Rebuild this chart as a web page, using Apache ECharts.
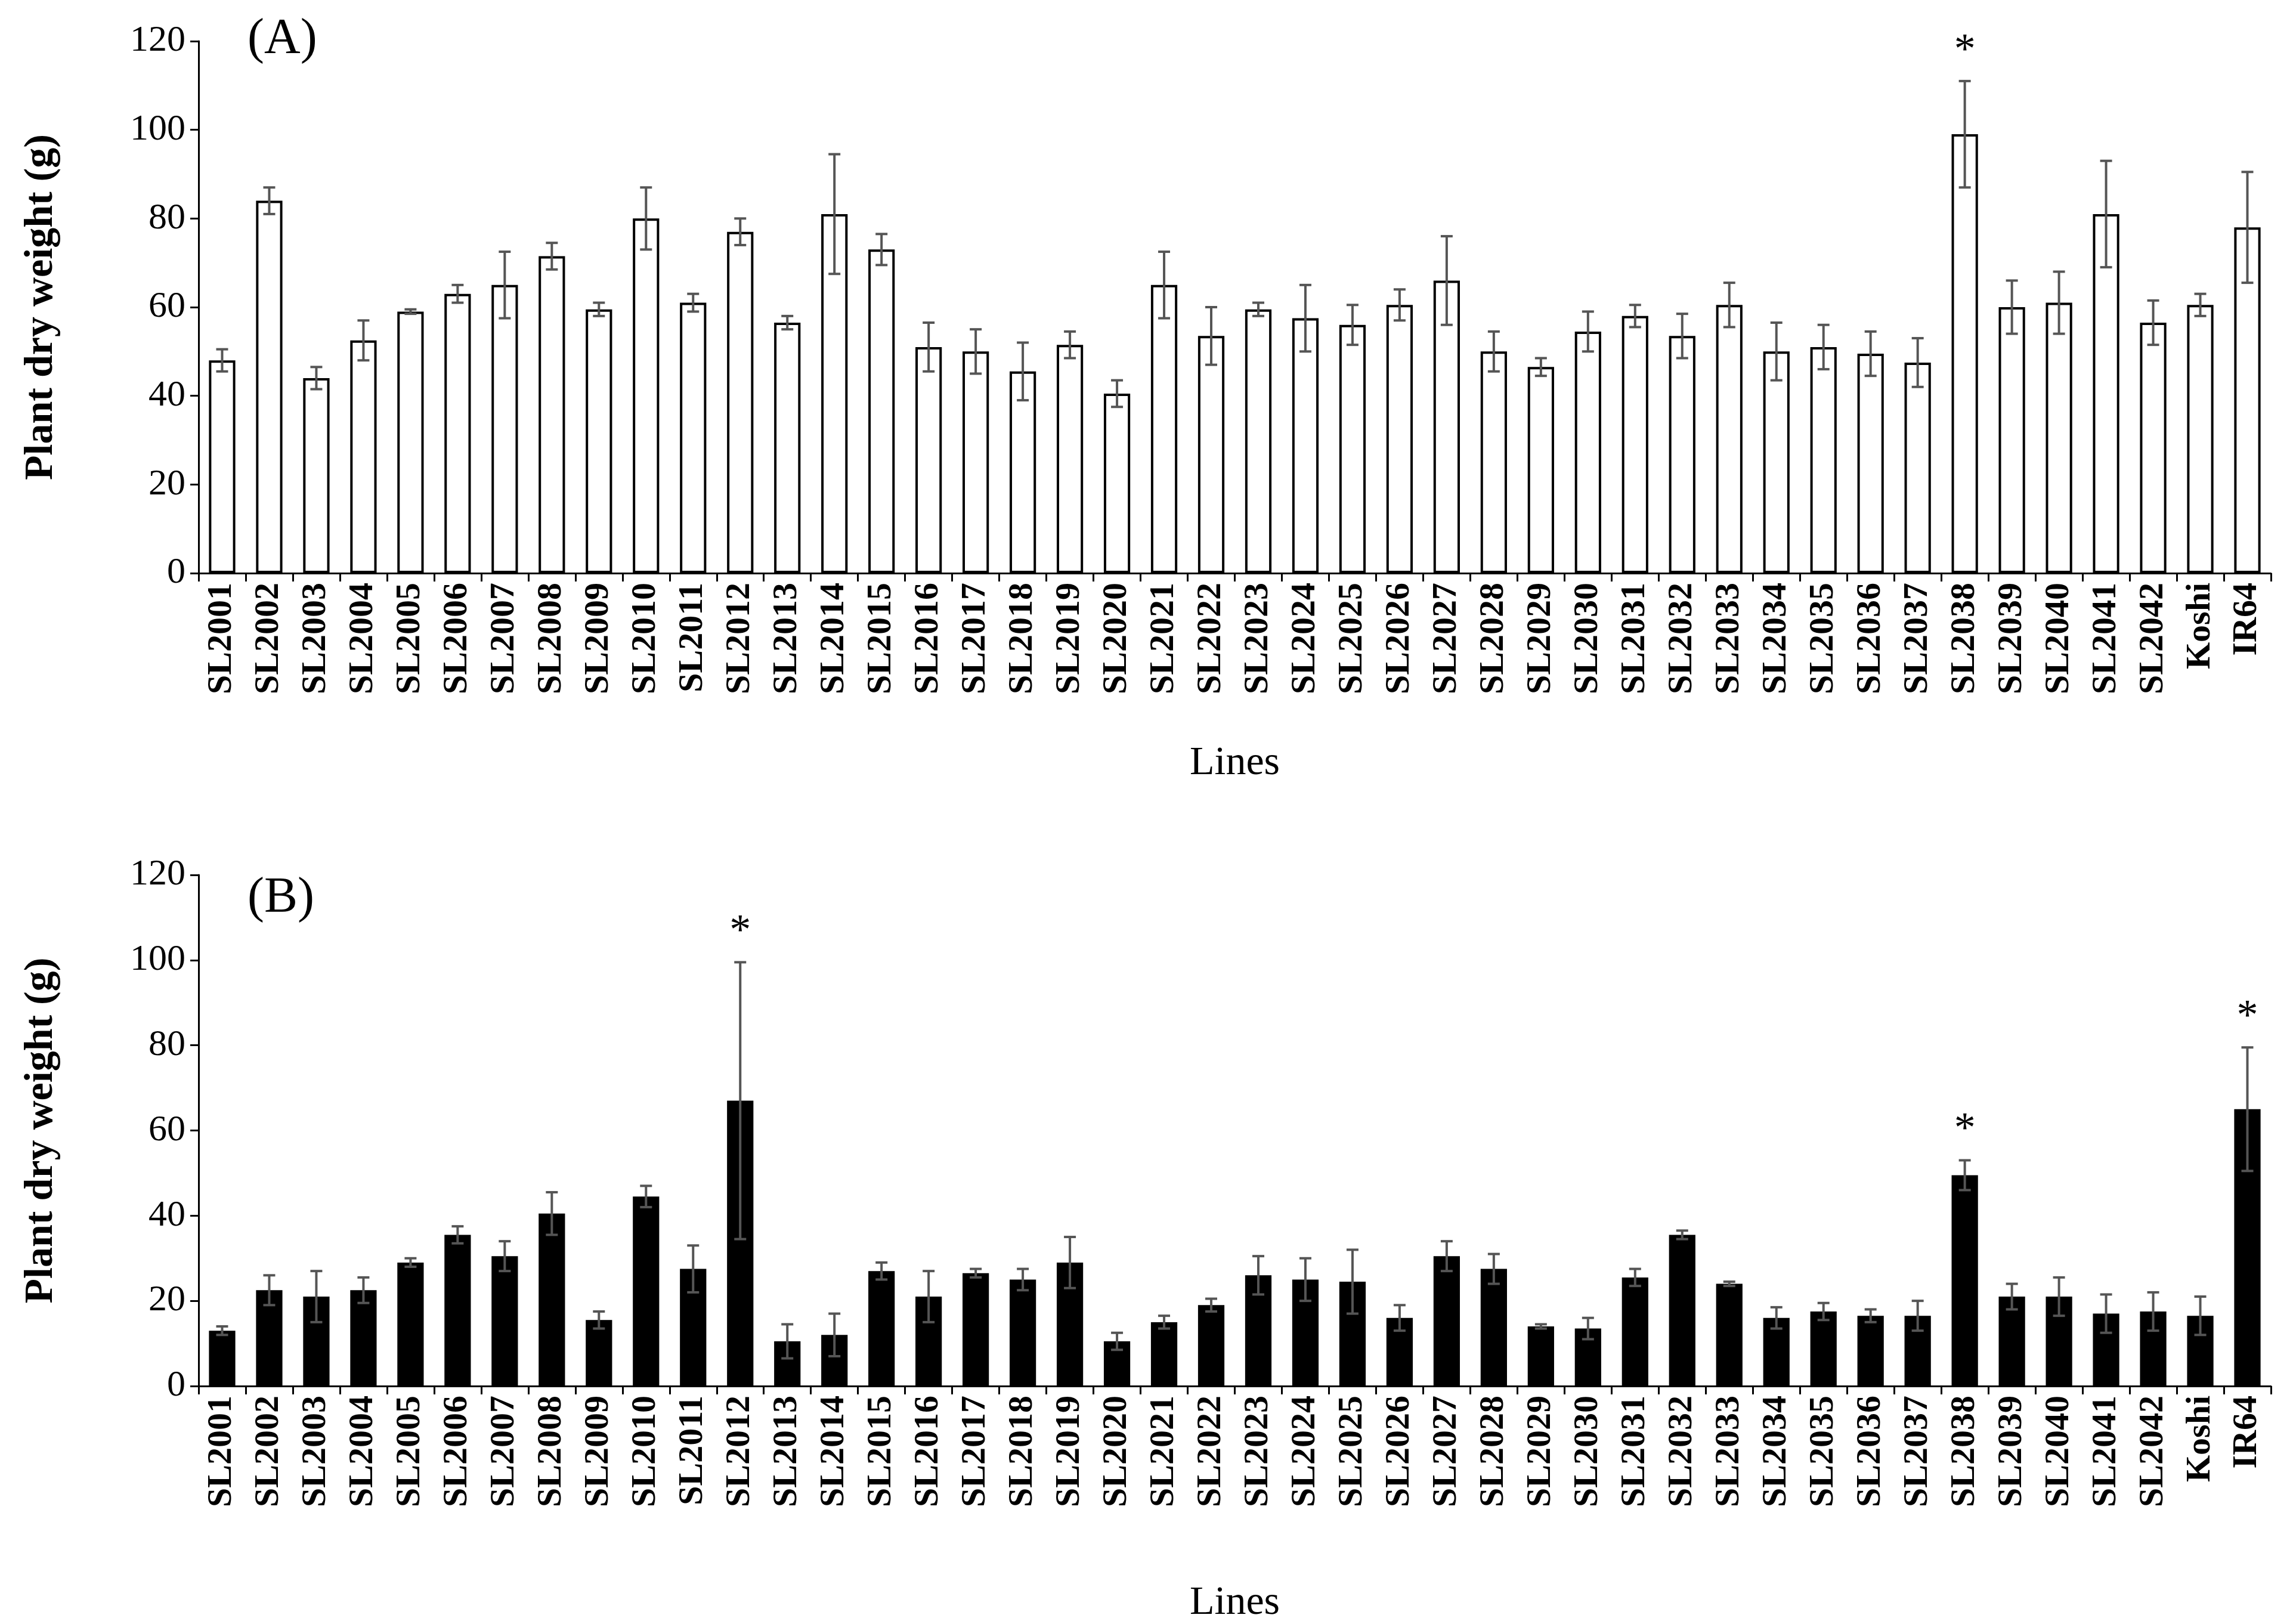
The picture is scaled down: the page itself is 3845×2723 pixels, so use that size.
<!DOCTYPE html>
<html>
<head>
<meta charset="utf-8" />
<script src="https://cdn.jsdelivr.net/npm/echarts@6/dist/echarts.min.js"></script>
<style>
  body { margin: 0; background: #fff; }
  #chart { width: 3845px; height: 2723px; }
</style>
</head>
<body>
<div id="chart"></div>
<script>
var lines = ['SL2001','SL2002','SL2003','SL2004','SL2005','SL2006','SL2007','SL2008','SL2009','SL2010',
  'SL2011','SL2012','SL2013','SL2014','SL2015','SL2016','SL2017','SL2018','SL2019','SL2020',
  'SL2021','SL2022','SL2023','SL2024','SL2025','SL2026','SL2027','SL2028','SL2029','SL2030',
  'SL2031','SL2032','SL2033','SL2034','SL2035','SL2036','SL2037','SL2038','SL2039','SL2040',
  'SL2041','SL2042','Koshi','IR64'];

// panel A
var meanA = [48,84,44,52.5,59,63,65,71.5,59.5,80, 61,77,56.5,81,73,51,50,45.5,51.5,40.5,
  65,53.5,59.5,57.5,56,60.5,66,50,46.5,54.5, 58,53.5,60.5,50,51,49.5,47.5,99,60,61, 81,56.5,60.5,78];
var errA = [2.5,3,2.5,4.5,0.5,2,7.5,3,1.5,7, 2,3,1.5,13.5,3.5,5.5,5,6.5,3,3,
  7.5,6.5,1.5,7.5,4.5,3.5,10,4.5,2,4.5, 2.5,5,5,6.5,5,5,5.5,12,6,7, 12,5,2.5,12.5];
var starA = ['SL2038'];

// panel B
var meanB = [13,22.5,21,22.5,29,35.5,30.5,40.5,15.5,44.5, 27.5,67,10.5,12,27,21,26.5,25,29,10.5,
  15,19,26,25,24.5,16,30.5,27.5,14,13.5, 25.5,35.5,24,16,17.5,16.5,16.5,49.5,21,21, 17,17.5,16.5,65];
var errB = [1,3.5,6,3,1,2,3.5,5,2,2.5, 5.5,32.5,4,5,2,6,1,2.5,6,2,
  1.5,1.5,4.5,5,7.5,3,3.5,3.5,0.5,2.5, 2,1,0.5,2.5,2,1.5,3.5,3.5,3,4.5, 4.5,4.5,4.5,14.5];
var starB = ['SL2012','SL2038','IR64'];

var yTicks = [0,20,40,60,80,100,120];

var font = 'Liberation Serif, Times New Roman, serif';

function errItems(mean, err, stars) {
  return mean.map(function (m, i) {
    return [i, m, err[i], stars.indexOf(lines[i]) >= 0 ? 1 : 0];
  });
}

function renderErr(params, api) {
  var i = api.value(0), m = api.value(1), e = api.value(2), s = api.value(3);
  var top = api.coord([i, m + e]);
  var bot = api.coord([i, m - e]);
  var w = 10;
  var st = { stroke: '#555', lineWidth: 4 };
  var kids = [
    { type: 'line', shape: { x1: top[0], y1: top[1], x2: bot[0], y2: bot[1] }, style: st },
    { type: 'line', shape: { x1: top[0] - w, y1: top[1], x2: top[0] + w, y2: top[1] }, style: st },
    { type: 'line', shape: { x1: bot[0] - w, y1: bot[1], x2: bot[0] + w, y2: bot[1] }, style: st }
  ];
  if (s) {
    kids.push({ type: 'text', style: { x: top[0], y: top[1] - 14, text: '*', fill: '#000',
      font: '72px ' + font, textAlign: 'center', textVerticalAlign: 'bottom' } });
  }
  return { type: 'group', children: kids };
}

function xAxisCfg(idx) {
  return {
    type: 'category', data: lines, gridIndex: idx,
    name: 'Lines', nameLocation: 'middle', nameGap: idx === 0 ? 285 : 330,
    nameTextStyle: { fontFamily: font, fontSize: 68, color: '#000' },
    axisLine: { lineStyle: { color: '#000', width: 3 } },
    axisTick: { show: true, alignWithLabel: false, length: 14, lineStyle: { color: '#000', width: 3 } },
    axisLabel: { rotate: 90, interval: 0, fontFamily: font, fontWeight: 'bold', fontSize: 58, color: '#000', margin: 16 }
  };
}

function yAxisCfg(idx) {
  return {
    type: 'value', gridIndex: idx, min: 0, max: 120, interval: 20,
    name: 'Plant dry weight (g)', nameLocation: 'middle', nameGap: 230,
    nameTextStyle: { fontFamily: font, fontWeight: 'bold', fontSize: 68, color: '#000' },
    axisLine: { show: true, lineStyle: { color: '#000', width: 3 } },
    axisTick: { show: true, length: 14, lineStyle: { color: '#000', width: 3 } },
    splitLine: { show: false },
    axisLabel: { fontFamily: font, fontSize: 62, color: '#000', margin: 22,
      formatter: function (v) { return yTicks.indexOf(v) >= 0 ? String(v) : ''; } }
  };
}

var chart = echarts.init(document.getElementById('chart'));
chart.setOption({
  animation: false,
  backgroundColor: '#fff',
  grid: [
    { left: 333, right: 37, top: 69, height: 892 },
    { left: 333, right: 37, top: 1467, height: 865 }
  ],
  graphic: [
    { type: 'text', left: 415, top: 25, style: { text: '(A)', font: '84px ' + font, fill: '#000' } },
    { type: 'text', left: 415, top: 1465, style: { text: '(B)', font: '84px ' + font, fill: '#000' } }
  ],
  xAxis: [xAxisCfg(0), xAxisCfg(1)],
  yAxis: [yAxisCfg(0), yAxisCfg(1)],
  series: [
    { type: 'bar', xAxisIndex: 0, yAxisIndex: 0, data: meanA, barWidth: '56%',
      itemStyle: { color: '#fff', borderColor: '#000', borderWidth: 4 } },
    { type: 'custom', xAxisIndex: 0, yAxisIndex: 0, data: errItems(meanA, errA, starA), renderItem: renderErr, z: 5 },
    { type: 'bar', xAxisIndex: 1, yAxisIndex: 1, data: meanB, barWidth: '56%',
      itemStyle: { color: '#000' } },
    { type: 'custom', xAxisIndex: 1, yAxisIndex: 1, data: errItems(meanB, errB, starB), renderItem: renderErr, z: 5 }
  ]
});
</script>
</body>
</html>
